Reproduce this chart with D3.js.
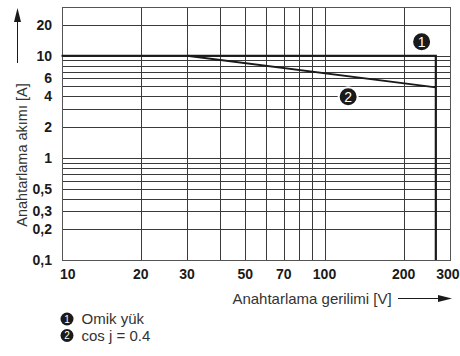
<!DOCTYPE html>
<html><head><meta charset="utf-8">
<script src="https://cdn.jsdelivr.net/npm/d3@7"></script>
<style>
html,body{margin:0;padding:0;background:#fff;}
text{font-family:"Liberation Sans",Arial,sans-serif;}
</style></head>
<body><svg id="c" width="460" height="356"></svg>
<script>
// Data
const xTickLabels = [10, 20, 30, 50, 70, 100, 200, 300];
const xTickText = ["10", "20", "30", "50", "70", "100", "200", "300"];
const yTickLabels = [20, 10, 6, 4, 2, 1, 0.5, 0.3, 0.2, 0.1];
const yTickText = ["20", "10", "6", "4", "2", "1", "0,5", "0,3", "0,2", "0,1"];
const xGrid = [20, 30, 40, 50, 60, 70, 80, 90, 100, 200];
const yGrid = [0.2, 0.3, 0.4, 0.5, 0.6, 0.7, 0.8, 0.9, 1, 2, 3, 4, 5, 6, 7, 8, 9, 10, 20];
const series1V = [10, 265, 265];      // Omik yük
const series1A = [10, 10, 0.1];
const series2V = [30, 265];           // cos j = 0.4
const series2A = [10, 4.9];
const markerV = [234, 123];
const markerA = [13.7, 3.97];
const markerText = ["1", "2"];
const legendText = ["Omik yük", "cos j = 0.4"];
const xTitle = "Anahtarlama gerilimi [V]";
const yTitle = "Anahtarlama akımı [A]";

const svg = d3.select("#c");
const x = d3.scaleLog().domain([10, 300]).range([61.5, 450]);
const y = d3.scaleLog().domain([0.1, 30]).range([260, 7]);

const grid = svg.append("g").attr("stroke", "#3a3a3a").attr("stroke-width", 1).attr("shape-rendering", "crispEdges");
grid.selectAll("line.v").data(xGrid).join("line")
  .attr("x1", d => Math.round(x(d)) + 0.5).attr("x2", d => Math.round(x(d)) + 0.5)
  .attr("y1", y(30)).attr("y2", y(0.1));
grid.selectAll("line.h").data(yGrid).join("line")
  .attr("y1", d => Math.round(y(d)) + 0.5).attr("y2", d => Math.round(y(d)) + 0.5)
  .attr("x1", x(10)).attr("x2", x(300));
// frame
svg.append("rect").attr("x", Math.round(x(10)) + 0.5).attr("y", Math.round(y(30)) + 0.5)
  .attr("width", Math.round(x(300)) - Math.round(x(10))).attr("height", Math.round(y(0.1)) - Math.round(y(30)))
  .attr("fill", "none").attr("stroke", "#555").attr("stroke-width", 1).attr("shape-rendering", "crispEdges");

const line = d3.line().x(d => x(d[0])).y(d => y(d[1]));
svg.append("path").datum(series1V.map((v, i) => [v, series1A[i]])).attr("d", line)
  .attr("fill", "none").attr("stroke", "#1a1a1a").attr("stroke-width", 2.2);
svg.append("path").datum(series2V.map((v, i) => [v, series2A[i]])).attr("d", line)
  .attr("fill", "none").attr("stroke", "#1a1a1a").attr("stroke-width", 2);

// markers
const mk = svg.selectAll("g.mk").data(markerV).join("g").attr("class", "mk")
  .attr("transform", (d, i) => `translate(${x(d)},${y(markerA[i])})`);
mk.append("circle").attr("r", 9.5).attr("fill", "#1a1a1a").attr("stroke", "#fff").attr("stroke-width", 2);
mk.append("text").text((d, i) => markerText[i]).attr("text-anchor", "middle").attr("dy", "0.36em")
  .attr("fill", "#fff").attr("font-size", 14);

// axis tick labels
const nX = xTickLabels.length;
svg.append("g").selectAll("text").data(xTickLabels).join("text")
  .attr("x", (d, i) => i === 0 ? x(d) - 1.5 : (i === nX - 1 ? 459.5 : x(d)))
  .attr("y", 279)
  .attr("text-anchor", (d, i) => i === 0 ? "start" : (i === nX - 1 ? "end" : "middle"))
  .attr("font-size", 14).attr("font-weight", "bold").attr("fill", "#1a1a1a")
  .text((d, i) => xTickText[i]);
svg.append("g").selectAll("text").data(yTickLabels).join("text")
  .attr("x", 52).attr("y", d => y(d)).attr("dy", "0.36em")
  .attr("text-anchor", "end")
  .attr("font-size", 14).attr("font-weight", "bold").attr("fill", "#1a1a1a")
  .text((d, i) => yTickText[i]);

// titles
svg.append("text").attr("transform", "translate(27,155) rotate(-90)")
  .attr("text-anchor", "middle").attr("font-size", 14.5).attr("fill", "#333").text(yTitle);
svg.append("text").attr("x", 312).attr("y", 304)
  .attr("text-anchor", "middle").attr("font-size", 15).attr("fill", "#333").text(xTitle);

// arrows
svg.append("line").attr("x1", 17.5).attr("x2", 17.5).attr("y1", 63).attr("y2", 18).attr("stroke", "#1a1a1a").attr("stroke-width", 1);
svg.append("path").attr("d", "M17.5,8 L14,22 L21,22 Z").attr("fill", "#1a1a1a");
svg.append("line").attr("x1", 398).attr("x2", 440).attr("y1", 298.5).attr("y2", 298.5).attr("stroke", "#1a1a1a").attr("stroke-width", 1);
svg.append("path").attr("d", "M452,298.5 L438,295 L438,302 Z").attr("fill", "#1a1a1a");

// legend
const lg = svg.selectAll("g.lg").data(legendText).join("g").attr("class", "lg")
  .attr("transform", (d, i) => `translate(67,${319 + i * 16.5})`);
lg.append("circle").attr("r", 6.5).attr("fill", "#1a1a1a");
lg.append("text").text((d, i) => markerText[i]).attr("text-anchor", "middle").attr("dy", "0.36em")
  .attr("fill", "#fff").attr("font-size", 10);
lg.append("text").text(d => d).attr("x", 14.5).attr("dy", "0.36em").attr("font-size", 15).attr("fill", "#333");
</script></body></html>
